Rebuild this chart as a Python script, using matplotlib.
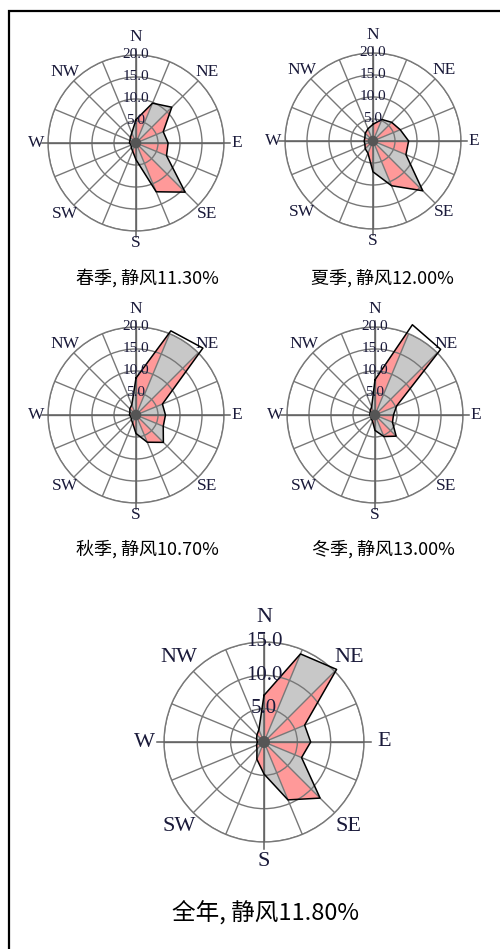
import numpy as np
import matplotlib
matplotlib.use("Agg")
import matplotlib.pyplot as plt
from matplotlib.patches import Rectangle

directions = ["N", "NNE", "NE", "ENE", "E", "ESE", "SE", "SSE",
              "S", "SSW", "SW", "WSW", "W", "WNW", "NW", "NNW"]
spring = [5.3, 9.8, 11.5, 6.7, 7.3, 7.5, 15.8, 12.0, 3.8, 2.0, 1.5, 1.2, 1.5, 1.5, 1.8, 2.5]
summer = [3.8, 5.3, 6.0, 6.7, 8.1, 8.1, 16.0, 11.0, 7.0, 3.0, 2.5, 2.0, 2.0, 2.0, 2.5, 3.0]
autumn = [8.4, 20.7, 21.5, 6.5, 6.7, 6.7, 8.8, 6.7, 4.2, 2.0, 1.5, 1.2, 1.5, 1.5, 2.0, 2.5]
winter = [8.0, 22.2, 21.1, 5.3, 4.2, 4.3, 6.8, 5.3, 3.5, 1.5, 1.2, 1.0, 1.2, 1.2, 1.5, 2.0]
annual = [7.0, 14.3, 15.4, 6.6, 7.0, 6.1, 11.9, 9.4, 4.8, 2.8, 1.5, 1.2, 1.0, 1.2, 1.5, 2.0]
captions = ["春季, 静风11.30%", "夏季, 静风12.00%", "秋季, 静风10.70%",
            "冬季, 静风13.00%", "全年, 静风11.80%"]
season_rings = [5, 10, 15, 20]
annual_rings = [5, 10, 15]
main_labels = ["N", "NE", "E", "SE", "S", "SW", "W", "NW"]

W, H = 500, 949
fig = plt.figure(figsize=(W / 100, H / 100), dpi=100)
fig.patch.set_facecolor("white")

# frame (left and top edges visible)
fig.add_artist(Rectangle((9 / W, -0.2), 1.5, 1.2 - 11 / H, transform=fig.transFigure,
                         fill=False, edgecolor="black", linewidth=1.6))

PINK = "#ff9999"
GREY = "#c8c8c8"
GRID = "#787878"


def rose(values, cx, cy, rad, rings, lab_fs, tick_fs, caption, capx, capy, cap_fs,
         lab_r=1.14, n_r=1.2):
    ax = fig.add_axes([(cx - rad) / W, 1 - (cy + rad) / H, 2 * rad / W, 2 * rad / H],
                      projection="polar")
    ax.set_theta_zero_location("N")
    ax.set_theta_direction(-1)
    rmax = rings[-1]
    ax.set_ylim(0, rmax)
    ax.set_facecolor("none")
    th = np.deg2rad(np.arange(16) * 22.5)
    v = np.asarray(values, dtype=float)
    for i in range(16):
        j = (i + 1) % 16
        t1, t2 = th[i], th[i] + np.deg2rad(22.5)
        ax.fill([0, t1, t2, 0], [0, v[i], v[j], 0],
                color=PINK if i % 2 == 0 else GREY, lw=0, zorder=1)
    ax.plot(np.append(th, th[0] + 2 * np.pi), np.append(v, v[0]),
            color="black", lw=1.1, zorder=4, clip_on=False)
    ax.set_xticks(th)
    ax.set_xticklabels([])
    ax.set_yticks(rings)
    ax.set_yticklabels([])
    ax.set_axisbelow(False)
    ax.grid(True, color=GRID, lw=1.0, zorder=3)
    ax.spines["polar"].set_color(GRID)
    ax.spines["polar"].set_linewidth(1.0)
    ax.tick_params(length=0)
    # cardinal axes extending slightly
    for a in [0, 90, 180, 270]:
        ax.plot([np.deg2rad(a)] * 2, [0, rmax * 1.07], color="#606060", lw=1.1,
                zorder=3, clip_on=False)
    # center blob
    ax.fill(np.linspace(0, 2 * np.pi, 40), np.full(40, rmax * 0.06),
            color="#555555", lw=0, zorder=5)
    for k, name in enumerate(main_labels):
        rr = rmax * (n_r if name == "N" else lab_r)
        ax.text(np.deg2rad(k * 45), rr, name, ha="center", va="center",
                fontsize=lab_fs, family="Liberation Serif", color="#1a1a3a",
                clip_on=False)
    for r in rings:
        ax.text(0, r, f"{r:.1f}", ha="center", va="center", fontsize=tick_fs,
                family="Liberation Serif", color="#1a1a3a", zorder=6)
    fig.text(capx / W, 1 - capy / H, caption, ha="center", va="center",
             fontsize=cap_fs, family=["Noto Sans CJK SC", "DejaVu Sans"], color="black")


rose(spring, 136, 143, 88, season_rings, 12.5, 11, captions[0], 147, 278, 13)
rose(summer, 373, 141, 88, season_rings, 12.5, 11, captions[1], 382, 278, 13)
rose(autumn, 136, 415, 88, season_rings, 12.5, 11, captions[2], 147, 549, 13)
rose(winter, 375, 415, 88, season_rings, 12.5, 11, captions[3], 383, 549, 13)
rose(annual, 264, 742, 100, annual_rings, 16, 15, captions[4], 266, 913, 17,
     lab_r=1.2, n_r=1.25)

fig.savefig("out.png", dpi=100, facecolor="white")
